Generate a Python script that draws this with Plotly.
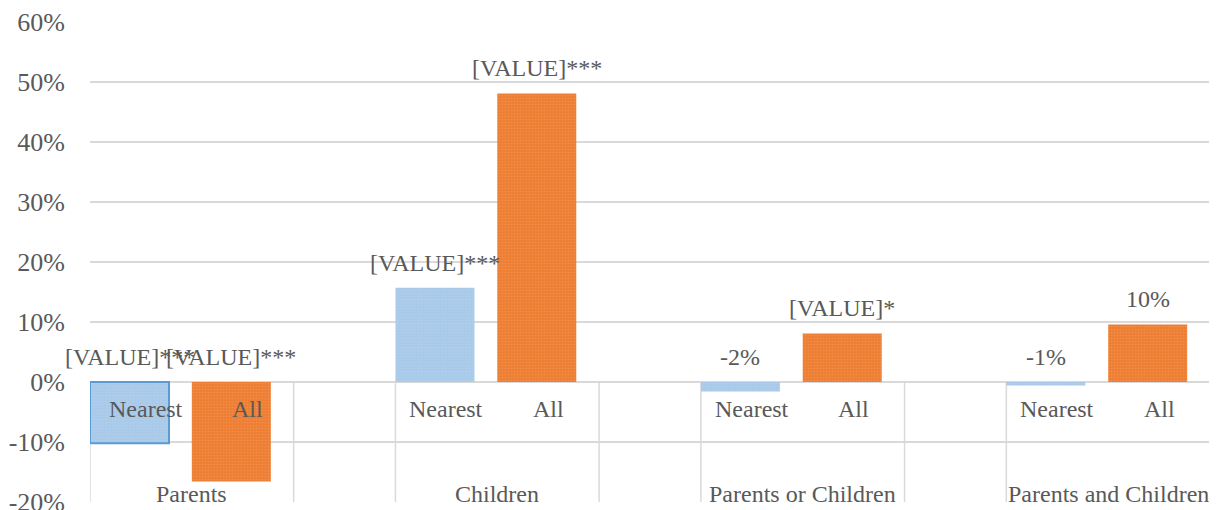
import plotly.graph_objects as go

# ---- data ----
groups = ["Parents", "Children", "Parents or Children", "Parents and Children"]
sub_labels = ["Nearest", "All"]
nearest_vals = [-0.102, 0.157, -0.016, -0.006]
all_vals = [-0.166, 0.481, 0.081, 0.096]
nearest_text = ["[VALUE]***", "[VALUE]***", "-2%", "-1%"]
all_text = ["[VALUE]***", "[VALUE]***", "[VALUE]*", "10%"]
y_tickvals = [-0.2, -0.1, 0.0, 0.1, 0.2, 0.3, 0.4, 0.5, 0.6]
y_ticktext = ["-20%", "-10%", "0%", "10%", "20%", "30%", "40%", "50%", "60%"]

FONT = "Liberation Serif"
TXT = "#595959"
GRID = "#D9D9D9"
FS = 24

# slot layout: each group = Nearest, All, then a blank slot
nearest_x = [3 * i for i in range(len(groups))]
all_x = [3 * i + 1 for i in range(len(groups))]
n_slots = 3 * len(groups) - 1
BW = 0.776

fig = go.Figure()
fig.add_trace(go.Bar(
    x=nearest_x, y=nearest_vals, width=BW, offset=-0.5, name="Nearest",
    marker=dict(color="#A8C9E9",
                line=dict(color=["#5B9BD5"] + ["rgba(0,0,0,0)"] * (len(groups) - 1),
                          width=[2] + [0] * (len(groups) - 1)),
                pattern=dict(shape=".", fillmode="overlay", fgcolor="#BCD6EF", size=3, solidity=0.25)),
    showlegend=False, hoverinfo="skip",
))
fig.add_trace(go.Bar(
    x=all_x, y=all_vals, width=BW, offset=-0.5, name="All",
    marker=dict(color="#EE7E32", line=dict(width=0),
                pattern=dict(shape=".", fillmode="overlay", fgcolor="#F4A06A", size=3, solidity=0.25)),
    showlegend=False, hoverinfo="skip",
))

ann = []
for xs, vals, texts in [(nearest_x, nearest_vals, nearest_text), (all_x, all_vals, all_text)]:
    for x, v, t in zip(xs, vals, texts):
        ann.append(dict(x=x - 0.5 + BW / 2, y=max(v, 0), text=t, showarrow=False,
                        yanchor="bottom", yshift=10, xref="x", yref="y",
                        font=dict(family=FONT, size=FS, color=TXT)))
for i, g in enumerate(groups):
    for j, s in enumerate(sub_labels):
        ann.append(dict(x=3 * i + j, y=0, text=s, showarrow=False, yanchor="middle",
                        yshift=-27, xshift=5 if i == 0 else 0, xref="x", yref="y",
                        font=dict(family=FONT, size=FS, color=TXT)))
    ann.append(dict(x=3 * i + 0.5, y=-0.2, text=g, showarrow=False, yanchor="middle",
                    yshift=8, xref="x", yref="y",
                    font=dict(family=FONT, size=FS, color=TXT)))

shapes = []
bounds = []
for i in range(len(groups)):
    bounds += [3 * i - 0.5, 3 * i + 1.5]
for b in bounds:
    shapes.append(dict(type="line", xref="x", yref="y", x0=b, x1=b, y0=y_tickvals[0], y1=0,
                       line=dict(color=GRID, width=1.5), layer="below"))

# the page body adds an 8px offset, so the figure is 8px smaller and margins compensate
fig.update_layout(
    width=1209, height=502,
    margin=dict(l=82, r=7, t=14, b=8, autoexpand=False),
    paper_bgcolor="white", plot_bgcolor="white",
    barmode="overlay",
    annotations=ann, shapes=shapes,
    font=dict(family=FONT, size=FS, color=TXT),
    xaxis=dict(range=[-0.5, n_slots - 0.5], showticklabels=False, showgrid=False,
               zeroline=False, showline=False, fixedrange=True),
    yaxis=dict(range=[y_tickvals[0], y_tickvals[-1]], tickvals=y_tickvals, ticktext=y_ticktext,
               showgrid=True, gridcolor=GRID, gridwidth=1.5, zeroline=True,
               zerolinecolor=GRID, zerolinewidth=1.5, showline=False,
               ticklabelstandoff=24, automargin=False, ticklabeloverflow="allow",
               tickfont=dict(family=FONT, size=26, color=TXT)),
)

fig.write_html("out.html")
